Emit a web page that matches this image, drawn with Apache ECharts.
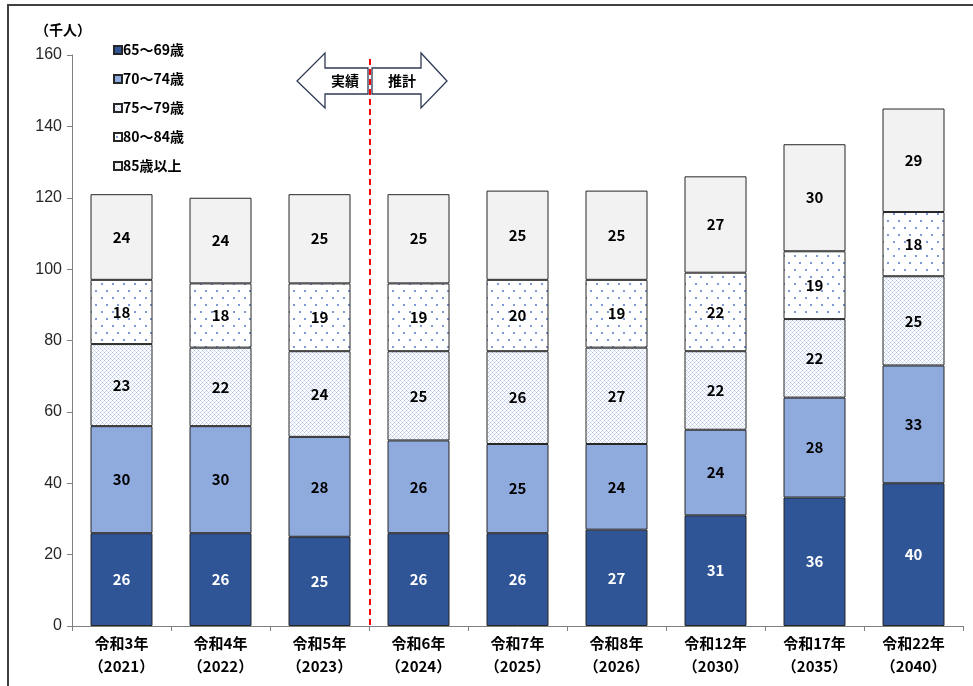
<!DOCTYPE html>
<html>
<head>
<meta charset="utf-8">
<script src="https://cdn.jsdelivr.net/npm/echarts@6/dist/echarts.min.js"></script>
<style>
  html, body { margin: 0; padding: 0; background: #fff; }
  #chart { width: 973px; height: 686px; }
</style>
</head>
<body>
<div id="chart"></div>
<script>
// Years (Japanese era and western)
const eraYears = ['令和3年', '令和4年', '令和5年', '令和6年', '令和7年', '令和8年', '令和12年', '令和17年', '令和22年'];
const westernYears = ['2021', '2022', '2023', '2024', '2025', '2026', '2030', '2035', '2040'];

// Population by age group (thousand people)
const age65to69 = [26, 26, 25, 26, 26, 27, 31, 36, 40];
const age70to74 = [30, 30, 28, 26, 25, 24, 24, 28, 33];
const age75to79 = [23, 22, 24, 25, 26, 27, 22, 22, 25];
const age80to84 = [18, 18, 19, 19, 20, 19, 22, 19, 18];
const age85plus = [24, 24, 25, 25, 25, 25, 27, 30, 29];

const groupNames = ['65～69歳', '70～74歳', '75～79歳', '80～84歳', '85歳以上'];

// Y axis range
const yMin = 0, yMax = 160, yStep = 20;

const CJK = '"Noto Sans CJK JP", "Noto Sans", sans-serif';

// Fine diagonal lattice fill
function latticePattern() {
  const c = document.createElement('canvas');
  c.width = 4; c.height = 4;
  const g = c.getContext('2d');
  g.fillStyle = '#ffffff';
  g.fillRect(0, 0, 4, 4);
  g.fillStyle = 'rgba(150,176,224,0.75)';
  g.fillRect(0, 0, 1, 1);
  g.fillRect(2, 2, 1, 1);
  g.fillStyle = 'rgba(190,206,236,0.6)';
  g.fillRect(1, 1, 1, 1);
  g.fillRect(3, 3, 1, 1);
  g.fillRect(3, 1, 1, 1);
  g.fillRect(1, 3, 1, 1);
  return c;
}

// Sparse dot fill
function dotPattern() {
  const c = document.createElement('canvas');
  c.width = 11; c.height = 14;
  const g = c.getContext('2d');
  g.fillStyle = '#ffffff';
  g.fillRect(0, 0, 11, 14);
  g.fillStyle = '#7e9ad6';
  g.fillRect(2, 3, 2, 2);
  g.fillRect(7, 10, 2, 2);
  return c;
}

const categories = eraYears.map((e, i) => e + '\n（' + westernYears[i] + '）');
const seriesData = [age65to69, age70to74, age75to79, age80to84, age85plus];
const fills = [
  '#2f5597',
  '#8faadc',
  { image: latticePattern(), repeat: 'repeat' },
  { image: dotPattern(), repeat: 'repeat' },
  '#f2f2f2'
];

const chart = echarts.init(document.getElementById('chart'), null, { renderer: 'canvas' });

const series = seriesData.map((d, i) => ({
  name: groupNames[i],
  type: 'bar',
  stack: 'total',
  data: d,
  barWidth: 62,
  itemStyle: { color: fills[i], borderColor: '#262626', borderWidth: 1 },
  label: {
    show: true,
    position: 'inside',
    color: i === 0 ? '#ffffff' : '#000000',
    fontFamily: CJK,
    fontWeight: 'bold',
    fontSize: 15
  },
  emphasis: { disabled: true },
  animation: false
}));

chart.setOption({
  animation: false,
  backgroundColor: '#ffffff',
  grid: { left: 72, right: 10, top: 55, bottom: 60, containLabel: false },
  legend: {
    orient: 'vertical',
    left: 108,
    top: 38,
    itemWidth: 8,
    itemHeight: 8,
    itemGap: 15,
    icon: 'rect',
    textStyle: { fontFamily: CJK, fontWeight: 'bold', fontSize: 14, color: '#000', padding: [0, 0, 0, -4] },
    data: groupNames,
    selectedMode: false
  },
  xAxis: {
    type: 'category',
    data: categories,
    axisLine: { show: true, lineStyle: { color: '#7f7f7f', width: 1 } },
    axisTick: { show: true, alignWithLabel: false, length: 5, lineStyle: { color: '#7f7f7f' } },
    axisLabel: {
      interval: 0,
      margin: 6,
      fontFamily: CJK,
      fontWeight: 'bold',
      fontSize: 15,
      lineHeight: 23,
      color: '#000'
    },
    splitLine: { show: false }
  },
  yAxis: {
    type: 'value',
    min: yMin,
    max: yMax,
    interval: yStep,
    axisLine: { show: true, lineStyle: { color: '#7f7f7f', width: 1 } },
    axisTick: { show: true, length: 5, lineStyle: { color: '#7f7f7f' } },
    axisLabel: { margin: 10, fontFamily: '"Liberation Sans", Arial, sans-serif', fontSize: 16, color: '#262626' },
    splitLine: { show: false }
  },
  series: series
});

// Divider between actual and projected values, with arrows and outer frame
function drawOverlays() {
  const x2 = chart.convertToPixel({ xAxisIndex: 0 }, 2);
  const x3 = chart.convertToPixel({ xAxisIndex: 0 }, 3);
  const xd = (x2 + x3) / 2 + 1;
  const yTop = chart.convertToPixel({ yAxisIndex: 0 }, yMax) + 4;
  const yBot = chart.convertToPixel({ yAxisIndex: 0 }, yMin);
  const cy = 81;
  const arrowStroke = { stroke: '#2e3a56', lineWidth: 1.3, fill: '#ffffff' };
  const leftArrow = [
    [xd - 2, cy - 13], [xd - 45, cy - 13], [xd - 45, cy - 28], [xd - 73, cy],
    [xd - 45, cy + 27], [xd - 45, cy + 13], [xd - 2, cy + 13]
  ];
  const rightArrow = [
    [xd + 2, cy - 13], [xd + 51, cy - 13], [xd + 51, cy - 28], [xd + 77, cy],
    [xd + 51, cy + 27], [xd + 51, cy + 13], [xd + 2, cy + 13]
  ];
  chart.setOption({
    graphic: [
      { type: 'polygon', shape: { points: leftArrow }, style: arrowStroke, z: 10 },
      { type: 'polygon', shape: { points: rightArrow }, style: arrowStroke, z: 10 },
      { type: 'text', x: xd - 25, y: cy, style: { text: '実績', fontFamily: CJK, fontWeight: 'bold', fontSize: 14, fill: '#000', align: 'center', verticalAlign: 'middle' }, z: 11 },
      { type: 'text', x: xd + 32, y: cy, style: { text: '推計', fontFamily: CJK, fontWeight: 'bold', fontSize: 14, fill: '#000', align: 'center', verticalAlign: 'middle' }, z: 11 },
      { type: 'line', shape: { x1: xd, y1: yTop, x2: xd, y2: yBot }, style: { stroke: '#ff0000', lineWidth: 2, lineDash: [6, 4] }, z: 12 },
      { type: 'text', x: 35, y: 30, style: { text: '（千人）', fontFamily: CJK, fontWeight: 'bold', fontSize: 14, fill: '#000', align: 'left', verticalAlign: 'middle' } },
      { type: 'polyline', shape: { points: [[8, 686], [8, 5], [973, 5]] }, style: { stroke: '#3f3f3f', lineWidth: 2, fill: null } }
    ]
  });
}
drawOverlays();
</script>
</body>
</html>
